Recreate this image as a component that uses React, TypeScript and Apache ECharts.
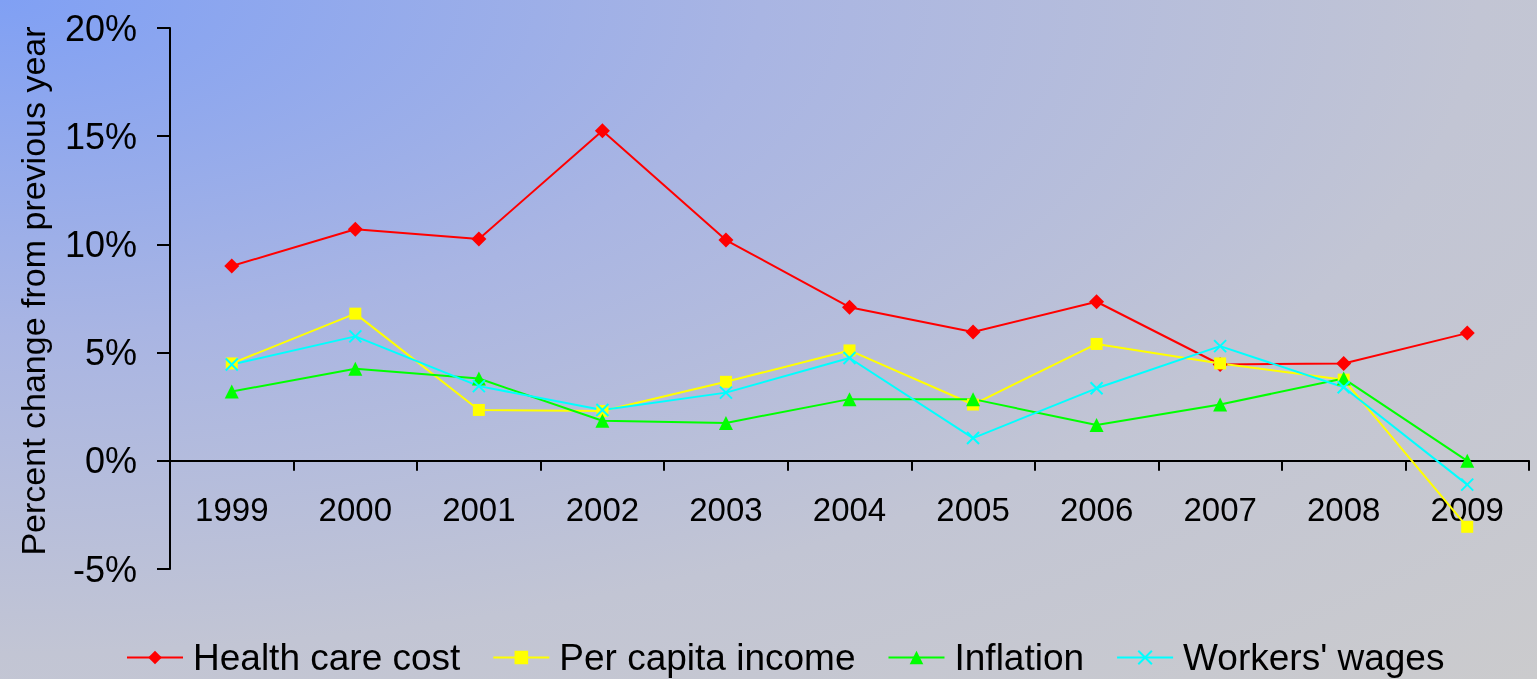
import React, { useEffect, useRef } from "react";
import * as echarts from "echarts";

const years = ["1999", "2000", "2001", "2002", "2003", "2004", "2005", "2006", "2007", "2008", "2009"];
const healthCareCost = [9.0, 10.7, 10.25, 15.25, 10.2, 7.1, 5.95, 7.35, 4.45, 4.5, 5.9];
const perCapitaIncome = [4.5, 6.8, 2.35, 2.3, 3.65, 5.1, 2.6, 5.4, 4.5, 3.75, -3.05];
const inflation = [3.2, 4.25, 3.8, 1.85, 1.75, 2.85, 2.85, 1.65, 2.6, 3.8, 0.0];
const workersWages = [4.45, 5.75, 3.45, 2.35, 3.15, 4.75, 1.05, 3.35, 5.3, 3.4, -1.1];
const yTitle = "Percent change from previous year";

const FONT = "'Liberation Sans', Arial, sans-serif";

export default function App() {
  const ref = useRef<HTMLDivElement>(null);
  useEffect(() => {
    if (!ref.current) return;
    const chart = echarts.init(ref.current, undefined, { renderer: "svg" });
    const mk = (name: string, data: number[], color: string, symbol: string, size: number, extra: any = {}) => ({
      name,
      type: "line",
      data,
      symbol,
      symbolSize: size,
      showSymbol: true,
      lineStyle: { color, width: 2 },
      itemStyle: { color, ...extra },
      emphasis: { disabled: true },
      z: 3,
    });
    chart.setOption({
      animation: false,
      textStyle: { fontFamily: FONT },
      grid: { left: 170, right: 8, top: 28, bottom: 110, containLabel: false },
      legend: {
        left: 126,
        top: 639,
        padding: 0,
        itemWidth: 56,
        itemHeight: 17,
        itemGap: 32,
        textStyle: { fontSize: 37, color: "#000", fontFamily: FONT, padding: [0, 0, 0, 5] },
        data: ["Health care cost", "Per capita income", "Inflation", "Workers' wages"],
      },
      graphic: [
        {
          type: "text",
          x: 33,
          y: 291,
          rotation: Math.PI / 2,
          style: {
            text: yTitle,
            fontSize: 34,
            fontFamily: FONT,
            fill: "#000",
            align: "center",
            verticalAlign: "middle",
          },
        },
      ],
      xAxis: {
        type: "category",
        data: years,
        boundaryGap: true,
        axisLine: { onZero: true, lineStyle: { color: "#000", width: 2 } },
        axisTick: { show: true, length: 10, inside: false, lineStyle: { color: "#000", width: 2 } },
        axisLabel: { fontSize: 33, color: "#000", margin: -76, fontFamily: FONT },
        splitLine: { show: false },
      },
      yAxis: {
        type: "value",
        min: -5,
        max: 20,
        interval: 5,
        axisLine: { show: true, lineStyle: { color: "#000", width: 2 } },
        axisTick: { show: true, length: 13, inside: false, lineStyle: { color: "#000", width: 2 } },
        axisLabel: { fontSize: 36, color: "#000", margin: 33, formatter: "{value}%", fontFamily: FONT },
        splitLine: { show: false },
      },
      series: [
        mk("Health care cost", healthCareCost, "#ff0000", "diamond", 15),
        mk("Per capita income", perCapitaIncome, "#ffff00", "rect", 12),
        mk("Inflation", inflation, "#00ff00", "triangle", 14),
        mk("Workers' wages", workersWages, "#00ffff", "path://M0,0L10,10M0,10L10,0", 12, {
          borderColor: "#00ffff",
          borderWidth: 2,
        }),
      ],
    });
    return () => chart.dispose();
  }, []);
  return (
    <div
      ref={ref}
      style={{
        position: "fixed",
        left: 0,
        top: 0,
        width: 1537,
        height: 679,
        background:
          "radial-gradient(ellipse farthest-corner at 0 0, #80a0f4 0%, #a9b5e3 35%, #c2c5d4 68%, #cbcbcd 100%)",
      }}
    />
  );
}
